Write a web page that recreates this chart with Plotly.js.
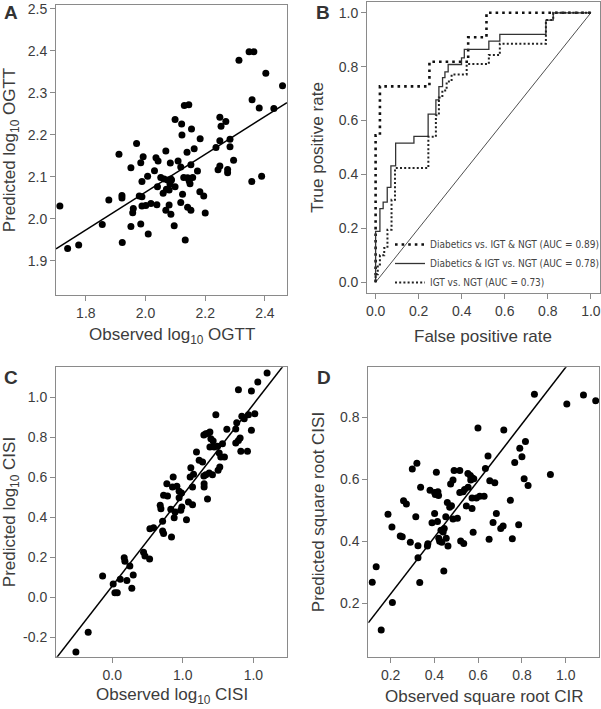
<!DOCTYPE html>
<html>
<head>
<meta charset="utf-8">
<script src="https://cdn.plot.ly/plotly-3.0.1.min.js"></script>
<style>html,body{margin:0;padding:0;background:#fff;}#chart{width:601px;height:709px;}</style>
</head>
<body>
<div id="chart"></div>
<script>
// ---------- Panel A: observed vs predicted log10 OGTT ----------
const aObserved = [1.713,1.739,1.776,1.855,1.877,1.911,1.921,1.921,1.922,1.951,
1.970,1.984,1.992,2.007,1.988,1.979,1.988,1.959,1.957,1.951,
1.984,2.009,1.988,2.001,2.018,2.038,2.035,2.042,2.030,2.040,
2.068,2.051,2.062,2.074,2.085,2.083,2.059,2.070,2.079,2.079,
2.068,2.085,2.096,2.099,2.109,2.118,2.099,2.121,2.122,2.130,
2.145,2.154,2.139,2.163,2.183,2.152,2.174,2.128,2.141,2.158,
2.146,2.149,2.124,2.118,2.141,2.152,2.182,2.195,2.200,2.133,
2.249,2.269,2.253,2.249,2.283,2.236,2.283,2.295,2.249,2.243,
2.275,2.275,2.313,2.347,2.363,2.403,2.459,2.357,2.381,2.430,
2.356,2.389,2.087,2.082];
const aPredicted = [2.031,1.930,1.938,1.987,2.045,2.154,2.056,2.050,1.944,2.122,
2.180,2.134,2.148,2.102,2.089,2.055,2.053,2.025,2.015,1.982,
1.988,1.964,2.031,2.032,2.037,2.034,2.146,2.138,2.115,2.077,
2.162,2.099,2.095,2.093,2.095,2.133,2.061,2.071,2.069,2.033,
2.021,2.011,1.984,2.077,2.138,2.124,2.237,2.226,2.200,2.270,
2.272,2.214,2.159,2.167,2.191,2.129,2.114,2.099,2.098,2.099,
2.091,2.084,2.059,2.039,2.028,2.021,2.065,2.055,2.014,1.950,
2.242,2.232,2.221,2.186,2.190,2.170,2.172,2.140,2.126,2.117,
2.118,2.110,2.378,2.398,2.398,2.347,2.317,2.284,2.264,2.263,
2.089,2.102,2.093,2.083];
const aFit = [1.164, 0.45]; // intercept, slope
const aXTicks = [1.8, 2.0, 2.2, 2.4];
const aYTicks = [1.9, 2.0, 2.1, 2.2, 2.3, 2.4, 2.5];

// ---------- Panel B: ROC curves (step corners) ----------
const rocNames = ["Diabetics vs. IGT & NGT (AUC = 0.89)",
                  "Diabetics & IGT vs. NGT (AUC = 0.78)",
                  "IGT vs. NGT (AUC = 0.73)"];
const roc1Fpr = [0, 0.02, 0.25, 0.43, 0.515, 1.0];
const roc1Tpr = [0, 0.545, 0.727, 0.818, 0.909, 1.0];
const roc2Fpr = [0, 0.02, 0.035, 0.054, 0.071, 0.093, 0.178, 0.244, 0.28, 0.294, 0.311, 0.322, 0.337, 0.399, 0.412, 0.526, 0.577, 0.791, 0.825, 1.0];
const roc2Tpr = [0, 0.189, 0.273, 0.297, 0.352, 0.432, 0.516, 0.541, 0.624, 0.677, 0.726, 0.759, 0.781, 0.808, 0.833, 0.864, 0.895, 0.920, 0.973, 1.0];
const roc3Fpr = [0, 0.01, 0.02, 0.04, 0.055, 0.074, 0.09, 0.245, 0.28, 0.294, 0.31, 0.33, 0.353, 0.423, 0.526, 0.577, 0.791, 0.825, 1.0];
const roc3Tpr = [0, 0.03, 0.066, 0.10, 0.127, 0.195, 0.306, 0.424, 0.54, 0.62, 0.686, 0.712, 0.745, 0.771, 0.81, 0.843, 0.885, 0.973, 1.0];
const chanceLine = [0, 1];
const bTicks = [0, 0.2, 0.4, 0.6, 0.8, 1.0];

// ---------- Panel C: observed vs predicted log10 CISI ----------
const cObserved = [-0.257,-0.170,-0.068,0.007,0.019,0.036,0.057,0.104,0.139,0.149,
0.125,0.085,0.090,0.222,0.232,0.265,0.267,0.293,0.357,0.357,
0.364,0.420,0.340,0.345,0.364,0.392,0.387,0.415,0.439,0.446,
0.432,0.427,0.458,0.474,0.491,0.474,0.493,0.486,0.526,0.540,
0.569,0.569,0.552,0.557,0.576,0.597,0.616,0.640,0.651,0.651,
0.675,0.663,0.687,0.710,0.750,0.762,0.663,0.692,0.699,0.715,
0.692,0.722,0.746,0.781,0.758,0.769,0.795,0.734,0.812,0.875,
0.882,0.918,0.935,0.965,1.010,0.986,0.875,0.906,0.894,0.911,
0.958,0.894,0.986,1.031,1.097,0.649,0.680,0.649];
const cPredicted = [-0.273,-0.174,0.108,0.068,0.024,0.024,0.091,0.085,0.046,0.113,
0.158,0.199,0.181,0.226,0.208,0.193,0.344,0.349,0.381,0.333,
0.320,0.303,0.461,0.444,0.511,0.508,0.569,0.441,0.399,0.427,
0.603,0.553,0.556,0.531,0.523,0.499,0.453,0.436,0.389,0.478,
0.464,0.553,0.603,0.649,0.616,0.728,0.686,0.678,0.569,0.553,
0.493,0.614,0.623,0.614,0.636,0.653,0.819,0.828,0.794,0.783,
0.753,0.753,0.756,0.769,0.723,0.703,0.703,0.914,0.841,0.843,
0.874,0.906,0.894,0.914,0.919,0.836,0.773,0.798,0.785,0.731,
0.731,1.039,1.033,1.078,1.123,0.813,0.821,0.608];
const cFit = [0.057, 0.909];
const cXTickVals = [0, 0.5, 1.0];
const cXTickText = ["0.0", "1.0", "1.0"];
const cYTickVals = [-0.2, 0, 0.2, 0.4, 0.6, 0.8, 1.0];
const cYTickText = ["-0.2", "0.0", "0.2", "0.4", "0.6", "0.8", "1.0"];

// ---------- Panel D: observed sqrt CIR vs predicted sqrt CISI ----------
const dObserved = [0.157,0.116,0.134,0.208,0.333,0.325,0.443,0.188,0.206,0.244,
0.253,0.290,0.325,0.368,0.370,0.315,0.259,0.272,0.299,0.320,
0.337,0.380,0.409,0.401,0.416,0.419,0.404,0.401,0.389,0.414,
0.452,0.459,0.470,0.478,0.430,0.440,0.445,0.420,0.424,0.434,
0.454,0.462,0.474,0.485,0.490,0.516,0.516,0.531,0.538,0.554,
0.553,0.564,0.572,0.580,0.566,0.546,0.572,0.505,0.485,0.520,
0.534,0.577,0.599,0.572,0.592,0.607,0.627,0.633,0.645,0.653,
0.676,0.650,0.668,0.683,0.703,0.714,0.717,0.747,0.756,0.767,
0.785,0.790,0.800,0.816,0.810,0.828,0.930,0.857,1.005,1.081,
1.137];
const dPredicted = [0.114,0.268,0.318,0.203,0.267,0.347,0.304,0.487,0.446,0.417,
0.415,0.397,0.386,0.385,0.392,0.479,0.531,0.520,0.633,0.652,
0.574,0.565,0.623,0.557,0.560,0.548,0.551,0.490,0.460,0.464,
0.479,0.525,0.510,0.515,0.436,0.430,0.441,0.410,0.400,0.397,
0.410,0.385,0.585,0.598,0.628,0.628,0.557,0.560,0.567,0.574,
0.619,0.612,0.605,0.602,0.598,0.514,0.506,0.474,0.472,0.401,
0.393,0.429,0.765,0.540,0.540,0.545,0.545,0.635,0.675,0.595,
0.589,0.407,0.461,0.490,0.441,0.449,0.759,0.532,0.408,0.654,
0.453,0.700,0.673,0.722,0.602,0.580,0.615,0.874,0.843,0.872,
0.853];
const dFit = [0.048, 0.913];
const dXTicks = [0.2, 0.4, 0.6, 0.8, 1.0];
const dYTicks = [0.2, 0.4, 0.6, 0.8];

const xTitles = ['Observed log<sub>10</sub> OGTT', 'False positive rate',
                 'Observed log<sub>10</sub> CISI', 'Observed square root CIR'];
const yTitles = ['Predicted log<sub>10</sub> OGTT', 'True positive rate',
                 'Predicted log<sub>10</sub> CISI', 'Predicted square root CISI'];

// ---------- helpers ----------
const W = 601, H = 709;
const M = {l: 0, r: 0, t: 0, b: 22};
const PW = W - M.l - M.r, PH = H - M.t - M.b;
const FONT = '"Liberation Sans", Arial, Helvetica, sans-serif';
const TXT = '#3c3c3c';
const LINE = '#8a8a8a';
const TITLEFONT = {family: FONT, size: 17, color: TXT};
// convert pixel positions of the page to fractions of the plotting area
const fx = p => (p - M.l) / PW;
const fy = p => 1 - (p - M.t) / PH;
const px = (a, b) => [fx(a), fx(b)];
const py = (top, bottom) => [fy(bottom), fy(top)];

const rangeA = {x: [1.70, 2.474], y: [1.819, 2.5095]};
const rangeB = {x: [-0.04, 1.04], y: [-0.04, 1.04]};
const rangeC = {x: [-0.398, 1.238], y: [-0.296, 1.151]};
const rangeD = {x: [0.098, 1.152], y: [0.028, 0.961]};

function fitLine(fit, xr, xa, ya) {
  const xs = [xr[0], xr[1]];
  return {x: xs, y: xs.map(v => fit[0] + fit[1] * v), mode: 'lines', type: 'scatter',
          xaxis: xa, yaxis: ya, showlegend: false, hoverinfo: 'skip',
          line: {color: '#000', width: 1.5}};
}
function dots(x, y, xa, ya) {
  return {x: x, y: y, mode: 'markers', type: 'scatter', xaxis: xa, yaxis: ya,
          showlegend: false, marker: {color: '#000', size: 7, line: {width: 0}}};
}
function axis(domain, range, extra, title) {
  return Object.assign({
    domain: domain, range: range, showgrid: false, zeroline: false,
    showline: true, mirror: true, linecolor: LINE, linewidth: 1,
    ticks: 'outside', ticklen: 5, tickwidth: 1, tickcolor: LINE,
    tickfont: {family: FONT, size: 14, color: TXT},
    title: {text: title || '', font: TITLEFONT}, automargin: false, fixedrange: true
  }, extra);
}

const traces = [
  dots(aObserved, aPredicted, 'x', 'y'),
  fitLine(aFit, rangeA.x, 'x', 'y'),
  {x: chanceLine, y: chanceLine, mode: 'lines', type: 'scatter', xaxis: 'x2', yaxis: 'y2',
   showlegend: false, hoverinfo: 'skip', line: {color: '#222', width: 0.8}},
  {x: roc1Fpr, y: roc1Tpr, name: rocNames[0], mode: 'lines', type: 'scatter', xaxis: 'x2', yaxis: 'y2',
   line: {shape: 'vh', color: '#111', width: 2.6, dash: '2.6px,4px'}},
  {x: roc2Fpr, y: roc2Tpr, name: rocNames[1], mode: 'lines', type: 'scatter', xaxis: 'x2', yaxis: 'y2',
   line: {shape: 'vh', color: '#333', width: 1.3}},
  {x: roc3Fpr, y: roc3Tpr, name: rocNames[2], mode: 'lines', type: 'scatter', xaxis: 'x2', yaxis: 'y2',
   line: {shape: 'vh', color: '#222', width: 2, dash: '2px,2.2px'}},
  dots(cObserved, cPredicted, 'x3', 'y3'),
  fitLine(cFit, rangeC.x, 'x3', 'y3'),
  dots(dObserved, dPredicted, 'x4', 'y4'),
  fitLine(dFit, rangeD.x, 'x4', 'y4')
];

const letterFont = {family: FONT, size: 19, color: '#333', weight: 'bold'};
function letter(t, x, y) {
  return {text: '<b>' + t + '</b>', x: fx(x), y: fy(y), xref: 'paper', yref: 'paper',
          xanchor: 'center', yanchor: 'middle', showarrow: false, font: letterFont};
}
// x-axis titles placed as annotations under each panel
function xTitle(t, xCenter, yCenter) {
  return {text: t, x: fx(xCenter), y: fy(yCenter), xref: 'paper', yref: 'paper',
          xanchor: 'center', yanchor: 'middle', showarrow: false, font: TITLEFONT};
}

const layout = {
  width: W, height: H, margin: Object.assign({autoexpand: false}, M),
  paper_bgcolor: '#fff', plot_bgcolor: '#fff',
  font: {family: FONT, color: TXT},
  xaxis: axis(px(56, 287), rangeA.x, {tickvals: aXTicks, tickformat: '.1f', anchor: 'y'}),
  yaxis: axis(py(5, 295), rangeA.y, {tickvals: aYTicks, tickformat: '.1f', anchor: 'x'}, yTitles[0]),
  xaxis2: axis(px(367, 599.5), rangeB.x, {tickvals: bTicks, tickformat: '.1f', anchor: 'y2'}),
  yaxis2: axis(py(2, 293), rangeB.y, {tickvals: bTicks, tickformat: '.1f', anchor: 'x2'}, yTitles[1]),
  xaxis3: axis(px(56, 287), rangeC.x, {tickvals: cXTickVals, ticktext: cXTickText, anchor: 'y3'}),
  yaxis3: axis(py(367.3, 656.7), rangeC.y, {tickvals: cYTickVals, ticktext: cYTickText, anchor: 'x3'}, yTitles[2]),
  xaxis4: axis(px(368.3, 599), rangeD.x, {tickvals: dXTicks, tickformat: '.1f', anchor: 'y4'}),
  yaxis4: axis(py(367.3, 656.7), rangeD.y, {tickvals: dYTicks, tickformat: '.1f', anchor: 'x4'}, yTitles[3]),
  showlegend: true,
  legend: {x: fx(390), xanchor: 'left', y: fy(230), yanchor: 'top',
           bgcolor: 'rgba(0,0,0,0)', borderwidth: 0, tracegroupgap: 0,
           font: {family: '"DejaVu Sans Condensed", "Liberation Sans Narrow", "Liberation Sans", sans-serif', size: 10, color: '#444'}},
  annotations: [letter('A', 11, 12), letter('B', 323, 12), letter('C', 11, 377), letter('D', 324, 377),
                xTitle(xTitles[0], 171.5, 336), xTitle(xTitles[1], 483.3, 336),
                xTitle(xTitles[2], 171.5, 696), xTitle(xTitles[3], 483.6, 696)]
};

Plotly.newPlot('chart', traces, layout, {displayModeBar: false, staticPlot: true});
</script>
</body>
</html>
